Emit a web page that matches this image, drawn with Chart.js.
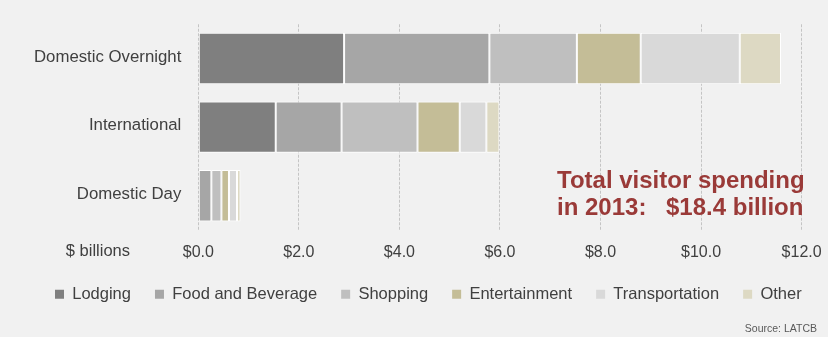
<!DOCTYPE html>
<html>
<head>
<meta charset="utf-8">
<script src="https://cdn.jsdelivr.net/npm/chart.js@4/dist/chart.umd.min.js"></script>
<style>
  html, body { margin: 0; padding: 0; background: #f1f1f1; }
  #wrap { width: 828px; height: 337px; }
</style>
</head>
<body>
<div id="wrap"><canvas id="spend-chart" width="828" height="337"></canvas></div>
<script>
// visitor spending by segment, $ billions
const categories = ['Domestic Overnight', 'International', 'Domestic Day'];
const lodging = [2.90, 1.54, 0];
const foodBev = [2.89, 1.31, 0.26];
const shopping = [1.74, 1.51, 0.20];
const entertainment = [1.27, 0.84, 0.15];
const transportation = [1.97, 0.53, 0.16];
const other = [0.82, 0.26, 0.07];

const seriesNames = ['Lodging', 'Food and Beverage', 'Shopping', 'Entertainment', 'Transportation', 'Other'];
const seriesColors = ['#7f7f7f', '#a6a6a6', '#bfbfbf', '#c4bd97', '#d9d9d9', '#ddd9c3'];
const seriesData = [lodging, foodBev, shopping, entertainment, transportation, other];

const xTicks = [0, 2, 4, 6, 8, 10, 12];
const unitLabel = '$ billions';
const totalLine1 = 'Total visitor spending';
const totalLine2a = 'in 2013:';
const totalLine2b = '$18.4 billion';
const sourceText = 'Source: LATCB';

const FONT = '"Liberation Sans", Arial, sans-serif';
Chart.defaults.font.family = FONT;
Chart.defaults.color = '#404040';

const LEGEND_PAD = 24;

const textNotes = {
  id: 'textNotes',
  afterLayout(chart) {
    // push the legend row right a little
    chart.legend.left = 55 - LEGEND_PAD;
  },
  afterDraw(chart) {
    const ctx = chart.ctx;
    ctx.save();
    ctx.fillStyle = '#404040';
    ctx.font = '16.5px ' + FONT;
    ctx.textAlign = 'right';
    ctx.textBaseline = 'middle';
    ctx.fillText(unitLabel, 130, 251.5);

    ctx.fillStyle = '#9a3a38';
    ctx.font = 'bold 24px ' + FONT;
    ctx.textAlign = 'left';
    ctx.textBaseline = 'alphabetic';
    ctx.fillText(totalLine1, 557, 188);
    ctx.fillText(totalLine2a, 557, 215);
    ctx.fillText(totalLine2b, 666, 215);

    ctx.fillStyle = '#595959';
    ctx.font = '10.5px ' + FONT;
    ctx.textAlign = 'right';
    ctx.textBaseline = 'middle';
    ctx.fillText(sourceText, 817, 329);
    ctx.restore();
  }
};

const ctx = document.getElementById('spend-chart').getContext('2d');

new Chart(ctx, {
  type: 'bar',
  data: {
    labels: categories,
    datasets: seriesNames.map((name, i) => ({
      label: name,
      data: seriesData[i],
      backgroundColor: seriesColors[i],
      borderColor: '#ffffff',
      borderWidth: 1,
      borderSkipped: false,
      barPercentage: 0.75,
      categoryPercentage: 1,
    }))
  },
  options: {
    indexAxis: 'y',
    responsive: false,
    animation: false,
    devicePixelRatio: 1,
    layout: { padding: { top: 24.25, bottom: 24.5, left: 0, right: 0 } },
    plugins: {
      tooltip: { enabled: false },
      legend: {
        position: 'bottom',
        align: 'start',
        labels: {
          boxWidth: 9,
          boxHeight: 9,
          padding: LEGEND_PAD,
          color: '#404040',
          font: { size: 16.5 },
          generateLabels: chart =>
            Chart.defaults.plugins.legend.labels.generateLabels(chart).map(l => ({ ...l, lineWidth: 0 }))
        }
      }
    },
    scales: {
      x: {
        stacked: true,
        min: 0,
        max: 12,
        afterBuildTicks: scale => { scale.ticks = xTicks.map(v => ({ value: v })); },
        afterFit: scale => {
          scale.height = 32;
          scale.paddingLeft = 0;
          scale.paddingRight = 26.4;
        },
        grid: { color: '#c4c4c4', lineWidth: 1, drawTicks: false },
        border: { display: false, dash: [3, 1.5] },
        ticks: {
          padding: 12.5,
          font: { size: 16 },
          color: '#404040',
          callback: v => '$' + v.toFixed(1)
        }
      },
      y: {
        stacked: true,
        afterFit: scale => {
          scale.width = 198.3;
          scale.paddingTop = 0;
          scale.paddingBottom = 0;
        },
        grid: { display: false, drawTicks: false },
        border: { display: false },
        ticks: {
          padding: 17,
          labelOffset: -1.5,
          font: { size: 16.8 },
          color: '#404040'
        }
      }
    }
  },
  plugins: [textNotes]
});
</script>
</body>
</html>
